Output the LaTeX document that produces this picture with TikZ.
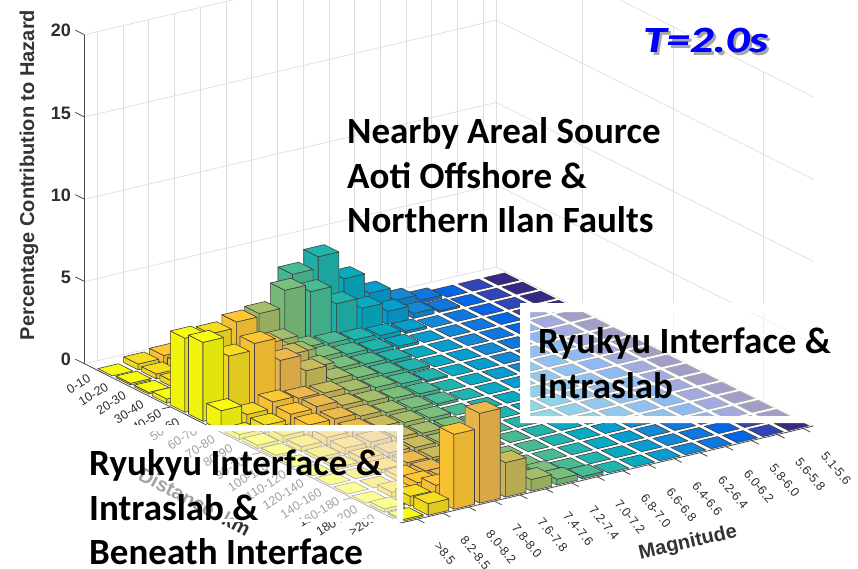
\documentclass[tikz,border=0pt]{standalone}
\usepackage{fontspec}
\setmainfont{Carlito}
\newfontfamily\axisfont{Liberation Sans}
\usetikzlibrary{calc}

% parula colours for the 16 magnitude series: pc0 (dark blue) ... pc15 (yellow)
\definecolor{pc0}{rgb}{0.208,0.166,0.529}
\definecolor{pc1}{rgb}{0.195,0.265,0.729}
\definecolor{pc2}{rgb}{0.020,0.396,0.900}
\definecolor{pc3}{rgb}{0.058,0.468,0.870}
\definecolor{pc4}{rgb}{0.076,0.534,0.835}
\definecolor{pc5}{rgb}{0.027,0.614,0.814}
\definecolor{pc6}{rgb}{0.029,0.666,0.757}
\definecolor{pc7}{rgb}{0.126,0.705,0.677}
\definecolor{pc8}{rgb}{0.285,0.735,0.581}
\definecolor{pc9}{rgb}{0.478,0.749,0.488}
\definecolor{pc10}{rgb}{0.647,0.746,0.419}
\definecolor{pc11}{rgb}{0.792,0.735,0.361}
\definecolor{pc12}{rgb}{0.926,0.726,0.299}
\definecolor{pc13}{rgb}{0.997,0.778,0.205}
\definecolor{pc14}{rgb}{0.964,0.866,0.134}
\definecolor{pc15}{rgb}{0.976,0.983,0.054}
\definecolor{gridc}{rgb}{0.87,0.87,0.87}
\definecolor{axisc}{rgb}{0.30,0.30,0.30}
\definecolor{tickc}{rgb}{0.18,0.18,0.18}

% bar heights: distance bin / magnitude bin (0 = >8.5) / height in percent
\foreach \d/\m/\h in {
  0/1/0.35, 0/2/0.5, 0/3/0.4, 0/4/0.5, 0/5/0.8, 0/6/1.5, 0/7/3.6, 0/8/4.3, 0/9/2.6, 0/10/1.35, 0/11/0.55, 0/12/0.2,
  1/0/0.1, 1/1/0.3, 1/2/0.5, 1/3/0.6, 1/4/0.8, 1/5/2.5, 1/6/3.55, 1/7/3.1, 1/8/2.0, 1/9/1.35, 1/10/0.8, 1/11/0.3, 1/12/0.1,
  2/0/0.1, 2/1/0.35, 2/2/0.8, 2/3/1.0, 2/4/1.3, 2/5/1.4, 2/6/0.6, 2/7/0.5, 2/8/0.35, 2/9/0.25, 2/10/0.15,
  3/0/0.25, 3/1/0.9, 3/2/1.6, 3/3/2.0, 3/4/1.8, 3/5/1.2, 3/6/0.6, 3/7/0.4, 3/8/0.25, 3/9/0.15,
  4/0/4.5, 4/1/4.4, 4/2/4.75, 4/3/3.0, 4/4/2.0, 4/5/0.9, 4/6/0.5, 4/7/0.35, 4/8/0.2,
  5/0/4.8, 5/1/3.6, 5/2/4.0, 5/3/2.6, 5/4/1.6, 5/5/0.7, 5/6/0.45, 5/7/0.3, 5/8/0.15,
  6/0/1.2, 6/1/0.6, 6/2/1.0, 6/3/0.85, 6/4/0.8, 6/5/0.55, 6/6/0.4, 6/7/0.25, 6/8/0.1,
  7/0/0.3, 7/1/0.5, 7/2/0.8, 7/3/0.9, 7/4/0.6, 7/5/0.45, 7/6/0.3, 7/7/0.2,
  8/0/0.2, 8/1/0.4, 8/2/0.7, 8/3/0.7, 8/4/0.5, 8/5/0.35, 8/6/0.25, 8/7/0.15,
  9/0/0.15, 9/1/0.3, 9/2/0.5, 9/3/0.55, 9/4/0.4, 9/5/0.3, 9/6/0.2,
  10/1/0.2, 10/2/0.4, 10/3/0.4, 10/4/0.3, 10/5/0.2, 10/6/0.15,
  11/1/0.15, 11/2/0.3, 11/3/0.3, 11/4/0.25, 11/5/0.15,
  12/2/0.2, 12/3/0.25, 12/4/0.2,
  13/2/0.3, 13/3/0.3, 13/4/0.2,
  14/1/0.3, 14/2/0.5, 14/3/0.45, 14/4/0.3, 14/5/0.2,
  15/0/0.2, 15/1/0.6, 15/2/0.9, 15/3/0.8, 15/4/0.5, 15/5/0.3, 15/6/0.2,
  16/0/0.1, 16/1/0.7, 16/2/4.55, 16/3/5.46, 16/4/2.1, 16/5/0.7, 16/6/0.35, 16/7/0.15}
  {\expandafter\xdef\csname bh-\d-\m\endcsname{\h}}

% one bar of bar3: footprint [d+0.1,d+0.9] x [m+0.1,m+0.9], height #3
\newcommand\drawbar[4]{%
  \pgfmathsetmacro\xa{#1+0.1}\pgfmathsetmacro\xb{#1+0.9}%
  \pgfmathsetmacro\ya{#2+0.1}\pgfmathsetmacro\yb{#2+0.9}%
  \ifdim #3pt>0.01pt
    \filldraw[barface, fill=#4!97!black] (\xa,\ya,0) -- (\xb,\ya,0) -- (\xb,\ya,#3) -- (\xa,\ya,#3) -- cycle;
    \filldraw[barface, fill=#4!91!black] (\xb,\ya,0) -- (\xb,\yb,0) -- (\xb,\yb,#3) -- (\xb,\ya,#3) -- cycle;
  \fi
  \filldraw[barface, fill=#4] (\xa,\ya,#3) -- (\xb,\ya,#3) -- (\xb,\yb,#3) -- (\xa,\yb,#3) -- cycle;
}

\begin{document}
\begin{tikzpicture}[x=1pt,y=-1pt,
  barface/.style={draw=black!75, line width=0.6pt, line join=round},
  wallgrid/.style={draw=gridc, line width=0.7pt},
  axisline/.style={draw=axisc, line width=0.8pt},
  ticklab/.style={font=\axisfont\fontsize{12.5}{12.5}\selectfont, text=tickc, inner sep=0pt},
  zlab/.style={font=\axisfont\bfseries\fontsize{18}{18}\selectfont, text=tickc, anchor=east, inner sep=0pt},
  axtitle/.style={font=\axisfont\bfseries\fontsize{20}{20}\selectfont, text=black!80, inner sep=0pt},
  bigtxt/.style={font=\bfseries\fontsize{37}{37}\selectfont, anchor=base west, inner sep=0pt},
  periodtxt/.style={font=\bfseries\itshape\fontsize{37}{37}\selectfont, anchor=base west, inner sep=0pt},
  fadebox/.style={fill=white, opacity=0.55}]
\useasboundingbox (0,0) rectangle (858,569);

\begin{scope}[shift={(93.5,368.3)}, x={(18.13pt,-9.09pt)}, y={(25.73pt,6.05pt)}, z={(0pt,16.45pt)}]
  % back walls with their grid
  \foreach \m in {0.5,1.5,...,15.5} \draw[wallgrid] (-0.5,\m,0) -- (-0.5,\m,20);
  \foreach \g in {4.25,9.25,14.25} \draw[wallgrid] (\g,16,0) -- (\g,16,20);
  \foreach \zz in {0,5,...,20} \draw[wallgrid] (-0.5,0,\zz) -- (-0.5,16,\zz) -- (17,16,\zz);
  \draw[wallgrid] (-0.5,16,0) -- (-0.5,16,20);
  \coordinate (corL) at (-0.5,0,0);
  \coordinate (corF) at (17,0,0);
  \coordinate (corR) at (17,16,0);
  \coordinate (zTop) at (-0.5,0,20);
  % axes and ticks
  \draw[axisline] (zTop) -- (corL) -- (corF) -- (corR);
  \foreach \zz in {0,5,...,20} \draw[axisline] (-0.5,0,\zz) -- (-1.0,0,\zz);
  \foreach \g in {4.25,9.25,14.25} \draw[axisline] (\g,0,0) -- (\g,-0.35,0);
  \foreach \i in {0,...,15} \draw[axisline] (17,\i+0.6,0) -- (17.4,\i+0.6,0);
  % bars, drawn from the back to the front
  \foreach \d in {0,...,16} {
    \foreach \m in {15,14,...,0} {
      \pgfmathtruncatemacro\k{15-\m}
      \ifcsname bh-\d-\m\endcsname \edef\hh{\csname bh-\d-\m\endcsname}\else\def\hh{0}\fi
      \drawbar{\d}{\m}{\hh}{pc\k}
    }
  }
\end{scope}

% tick labels
\foreach \zz [count=\j from 0] in {0,5,10,15,20}
  \node[zlab] (zl\zz) at (71, 359.8-82.25*\j) {\zz};
\foreach \lab [count=\i from 0] in {0-10,10-20,20-30,30-40,40-50,50-60,60-70,70-80,80-90,90-100,100-110,110-120,120-140,140-160,160-180,180-200,>200}
  \node[ticklab, anchor=east, rotate=32] (dl\i) at (89.3+17.8*\i, 377+8.77*\i) {\lab};
\foreach \lab [count=\i from 0] in {>8.5,8.2-8.5,8.0-8.2,7.8-8.0,7.6-7.8,7.4-7.6,7.2-7.4,7.0-7.2,6.8-7.0,6.6-6.8,6.4-6.6,6.2-6.4,6.0-6.2,5.8-6.0,5.6-5.8,5.1-5.6}
  \node[ticklab, anchor=west, rotate=-50] (ml\i) at (437+25.77*\i, 544-6.04*\i) {\lab};

% axis titles
\node[axtitle, rotate=90] (ztitle) at (29,175) {Percentage Contribution to Hazard};
\node[axtitle, rotate=-28] (dtitle) at (194,503) {Distance, km};
\node[axtitle, rotate=13] (mtitle) at (688,543) {Magnitude};

% labelled boxes, white frame over a see-through middle
\fill[white, even odd rule] (520,303) rectangle (822,423) (530,312) rectangle (812,416);
\fill[fadebox] (530,312) rectangle (812,416);
\fill[white, even odd rule] (133,425) rectangle (403,522) (139,431) rectangle (397,519);
\fill[fadebox] (139,431) rectangle (397,519);

\node[bigtxt] (n1) at (347,144) {Nearby Areal Source};
\node[bigtxt] (n2) at (347,189) {Aoti Offshore \&};
\node[bigtxt] (n3) at (347,233) {Northern Ilan Faults};
\node[bigtxt] (r1) at (538,353) {Ryukyu Interface \&};
\node[bigtxt] (r2) at (538,398) {Intraslab};
\node[bigtxt] (b1) at (89,475) {Ryukyu Interface \&};
\node[bigtxt] (b2) at (89,520) {Intraslab \&};
\node[bigtxt] (b3) at (89,564) {Beneath Interface};

% period label with a soft drop shadow, set twice for a heavier stroke
\node[periodtxt, text=black!35] (tshadow) at (646,56) {\scalebox{1.26}[1]{T=2.0s}};
\node[periodtxt, text=blue] (tlabelb) at (643.6,53) {\scalebox{1.26}[1]{T=2.0s}};
\node[periodtxt, text=blue] (tlabel) at (643,53) {\scalebox{1.26}[1]{T=2.0s}};
\end{tikzpicture}
\end{document}
